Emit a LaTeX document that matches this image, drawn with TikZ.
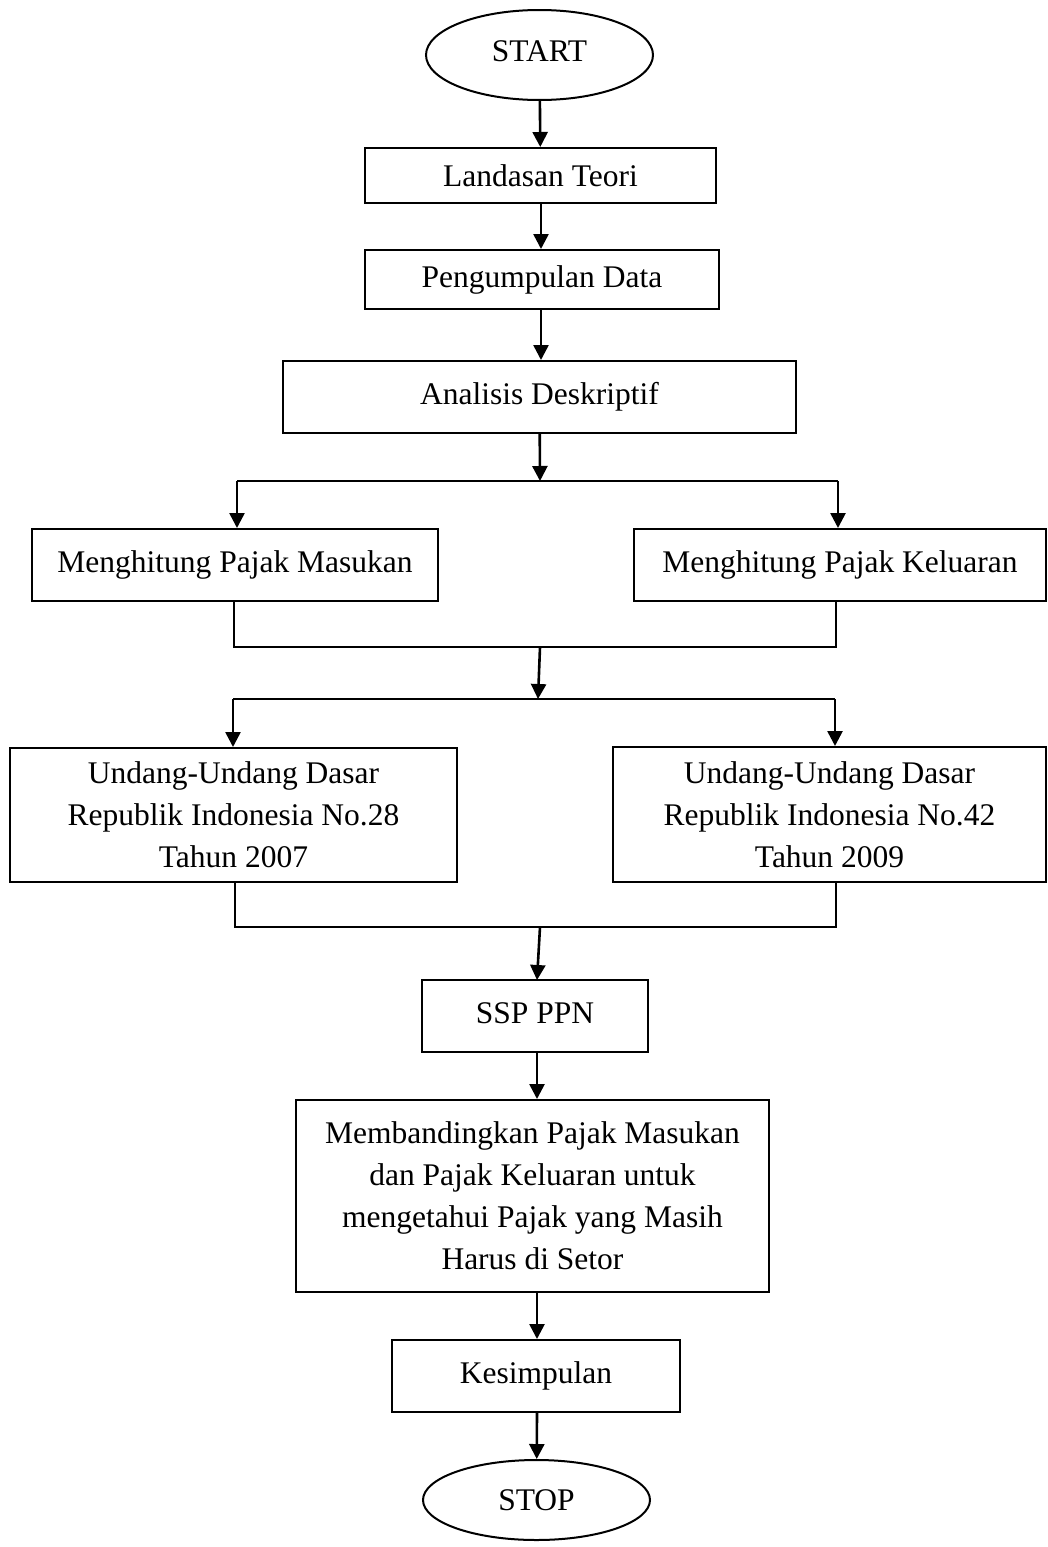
\documentclass[tikz,border=0pt]{standalone}
\usepackage{fontspec}
\setmainfont{Liberation Serif}
\usetikzlibrary{shapes.geometric,arrows.meta}
\begin{document}
\begin{tikzpicture}[x=1pt,y=-1pt,
  every node/.style={font=\fontsize{31.5}{42}\selectfont, inner sep=0pt, align=center},
  box/.style={draw, line width=2pt, rectangle},
  term/.style={draw, line width=2pt, ellipse},
  arr/.style={line width=2.6pt, -{Triangle[width=15pt,length=15pt]}},
  link/.style={line width=1.6pt}]
\useasboundingbox (0,0) rectangle (1048,1547);
\node[term, minimum width=227pt, minimum height=90pt] (start) at (539.5,55) {\raisebox{7pt}{START}};
\node[box, minimum width=351pt, minimum height=55pt] (lt) at (540.5,175.5) {Landasan Teori};
\node[box, minimum width=354pt, minimum height=59pt] (pd) at (542,279.5) {Pengumpulan Data};
\node[box, minimum width=513pt, minimum height=72pt] (ad) at (539.5,397) {\raisebox{8pt}{Analisis Deskriptif}};
\node[box, minimum width=406pt, minimum height=72pt] (pm) at (235,565) {Menghitung Pajak Masukan};
\node[box, minimum width=412pt, minimum height=72pt] (pk) at (840,565) {Menghitung Pajak Keluaran};
\node[box, minimum width=447pt, minimum height=134pt] (uu1) at (233.5,815) {Undang-Undang Dasar\\Republik Indonesia No.28\\Tahun 2007};
\node[box, minimum width=433pt, minimum height=135pt] (uu2) at (829.5,814.5) {Undang-Undang Dasar\\Republik Indonesia No.42\\Tahun 2009};
\node[box, minimum width=226pt, minimum height=72pt] (ssp) at (535,1016) {\raisebox{6pt}{SSP PPN}};
\node[box, minimum width=473pt, minimum height=192pt] (mb) at (532.5,1196) {Membandingkan Pajak Masukan\\dan Pajak Keluaran untuk\\mengetahui Pajak yang Masih\\Harus di Setor};
\node[box, minimum width=288pt, minimum height=72pt] (ks) at (536,1376) {\raisebox{6pt}{Kesimpulan}};
\node[term, minimum width=227pt, minimum height=80pt] (stop) at (536.5,1500) {\raisebox{-4pt}{STOP}};
% junction coordinates
\coordinate (j1) at (540,481);
\coordinate (j1l) at (237,481);
\coordinate (j1r) at (838,481);
\coordinate (m1l) at (234,647);
\coordinate (m1r) at (836,647);
\coordinate (m1) at (540,647);
\coordinate (j2) at (538,699);
\coordinate (j2l) at (233,699);
\coordinate (j2r) at (835,699);
\coordinate (m2l) at (235,927);
\coordinate (m2r) at (836,927);
\coordinate (m2) at (540,927);
% connectors
\draw[arr] (start) -- (lt);
\draw[arr] (lt.south -| 541,0) -- (pd.north -| 541,0);
\draw[arr] (pd.south -| 541,0) -- (ad.north -| 541,0);
\draw[arr] (ad) -- (j1);
\draw[link] (j1l) -- (j1r);
\draw[arr] (j1l) -- (j1l |- pm.north);
\draw[arr] (j1r) -- (j1r |- pk.north);
\draw[link] (m1l |- pm.south) -- (m1l) -- (m1r) -- (m1r |- pk.south);
\draw[arr] (m1) -- (j2);
\draw[link] (j2l) -- (j2r);
\draw[arr] (j2l) -- (j2l |- uu1.north);
\draw[arr] (j2r) -- (j2r |- uu2.north);
\draw[link] (m2l |- uu1.south) -- (m2l) -- (m2r) -- (m2r |- uu2.south);
\draw[arr] (m2) -- (537,980) coordinate (sspin);
\draw[arr] (ssp.south -| 537,0) -- (mb.north -| 537,0);
\draw[arr] (mb.south -| 537,0) -- (ks.north -| 537,0);
\draw[arr] (ks.south -| 537,0) -- (stop);
\end{tikzpicture}
\end{document}
